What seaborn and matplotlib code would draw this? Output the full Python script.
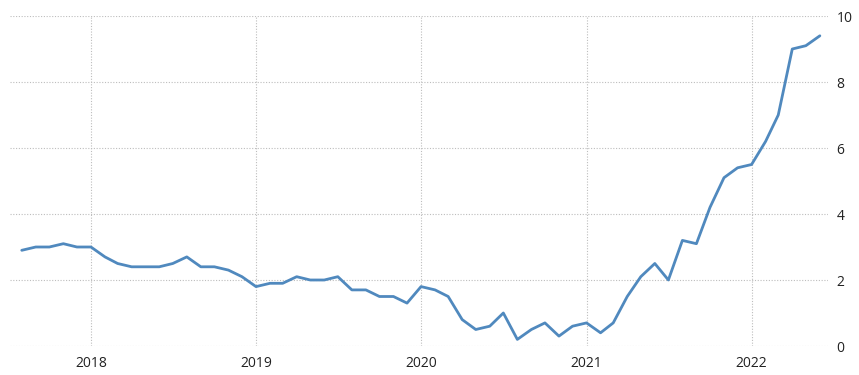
import matplotlib
matplotlib.use("Agg")
import matplotlib.pyplot as plt
import seaborn as sns
import pandas as pd

months = pd.date_range("2017-08-01", "2022-06-01", freq="MS")
values = [2.9, 3.0, 3.0, 3.1, 3.0,
          3.0, 2.7, 2.5, 2.4, 2.4, 2.4, 2.5, 2.7, 2.4, 2.4, 2.3, 2.1,
          1.8, 1.9, 1.9, 2.1, 2.0, 2.0, 2.1, 1.7, 1.7, 1.5, 1.5, 1.3,
          1.8, 1.7, 1.5, 0.8, 0.5, 0.6, 1.0, 0.2, 0.5, 0.7, 0.3, 0.6,
          0.7, 0.4, 0.7, 1.5, 2.1, 2.5, 2.0, 3.2, 3.1, 4.2, 5.1, 5.4,
          5.5, 6.2, 7.0, 9.0, 9.1, 9.4]
y_ticks = [0, 2, 4, 6, 8, 10]
x_tick_years = ["2018", "2019", "2020", "2021", "2022"]

df = pd.DataFrame({"date": months, "value": values})

sns.set_theme(style="white")
plt.rcParams["font.family"] = ["Open Sans", "DejaVu Sans"]

fig = plt.figure(figsize=(8.59, 3.75), dpi=100)
ax = fig.add_axes([10 / 859, 29 / 375, 818 / 859, 330 / 375])

sns.lineplot(data=df, x="date", y="value", ax=ax, color="#5089be",
             linewidth=2.0, solid_joinstyle="round", solid_capstyle="round")

ax.set_xlim(pd.Timestamp("2017-07-06"), pd.Timestamp("2022-06-19"))
ax.set_ylim(0, 10)
ax.set_yticks(y_ticks)
ax.set_xticks([pd.Timestamp(f"{y}-01-01") for y in x_tick_years])
ax.set_xticklabels(x_tick_years)
ax.yaxis.tick_right()
ax.set_xlabel("")
ax.set_ylabel("")
for s in ax.spines.values():
    s.set_visible(False)

ax.grid(True, which="major", axis="both", color="#bdbdbd",
        linestyle=(0, (1, 1.5)), linewidth=0.8)
ax.tick_params(axis="x", length=6, width=0.8, color="#bdbdbd",
               labelsize=10, labelcolor="#222222", pad=1)
ax.tick_params(axis="y", length=0, labelsize=10, labelcolor="#222222", pad=6)

fig.savefig("out.png", dpi=100)
